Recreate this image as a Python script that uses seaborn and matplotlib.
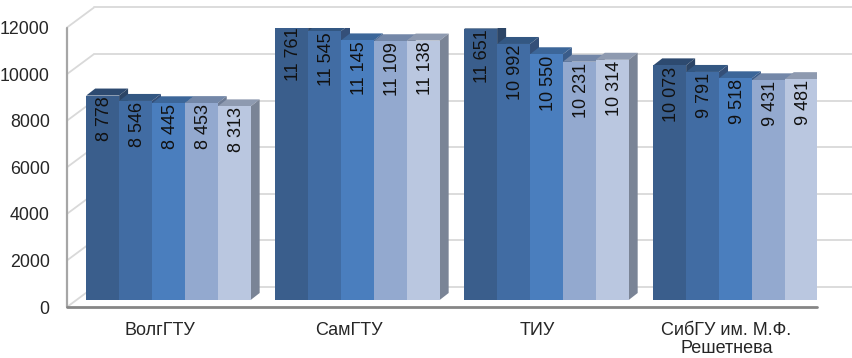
import numpy as np
import pandas as pd
import seaborn as sns
import matplotlib
matplotlib.use("Agg")
import matplotlib.pyplot as plt
from matplotlib.patches import Polygon

# ---------------- data ----------------
universities = ["ВолгГТУ", "СамГТУ", "ТИУ", "СибГУ им. М.Ф.\nРешетнева"]
series_names = ["Ряд 1", "Ряд 2", "Ряд 3", "Ряд 4", "Ряд 5"]
series_1 = [8778, 11761, 11651, 10073]
series_2 = [8546, 11545, 10992, 9791]
series_3 = [8445, 11145, 10550, 9518]
series_4 = [8453, 11109, 10231, 9431]
series_5 = [8313, 11138, 10314, 9481]
y_ticks = [0, 2000, 4000, 6000, 8000, 10000, 12000]

all_series = [series_1, series_2, series_3, series_4, series_5]
df = pd.DataFrame({
    "uni": [u for s in all_series for u in universities],
    "series": [n for n, s in zip(series_names, all_series) for _ in s],
    "val": [v for s in all_series for v in s],
})

# ---------------- style ----------------
face_colors = ["#3A5E8C", "#416CA3", "#4A7EBE", "#93A9CF", "#BAC7E0"]
top_colors = ["#2D4A70", "#335782", "#3C6699", "#7387A8", "#8E9AB0"]
side_colors = ["#2C4566", "#344F78", "#3A5C8A", "#6D7B94", "#7A8496"]

sns.set_style("white")
plt.rcParams["font.family"] = ["Liberation Sans", "DejaVu Sans"]

W, H = 852, 358
fig = plt.figure(figsize=(W / 100, H / 100), dpi=100)
ax = fig.add_axes([67 / W, 51 / H, 750 / W, 279.5 / H])

sns.barplot(data=df, x="uni", y="val", hue="series", palette=face_colors,
            width=0.87, saturation=1, legend=False, ax=ax, linewidth=0,
            errorbar=None)

xl, xr = -0.489, 3.479
ax.set_xlim(xl, xr)
ax.set_ylim(0, 12000)
for s in ax.spines.values():
    s.set_visible(False)
ax.set_xlabel("")
ax.set_ylabel("")

# pixel -> data conversions
p0 = ax.transData.transform((0, 0))
p1 = ax.transData.transform((1, 1))
sx = p1[0] - p0[0]
sy = p1[1] - p0[1]
def dxp(px):
    return px / sx
def dyp(px):
    return px / sy

# bars front-plane offset and depth
bx, by = dxp(9), dyp(7)
ddx, ddy = dxp(9), dyp(7)
wx, wy = dxp(27), dyp(20)

# back wall / left wall
for v in y_ticks:
    ax.plot([xl, xl + wx], [v, v + wy], color="#D9D9D9", lw=1.3,
            zorder=1, clip_on=False, solid_capstyle="butt")
    ax.plot([xl + wx, xr + 1.0], [v + wy, v + wy], color="#D9D9D9", lw=1.3,
            zorder=1, clip_on=False)
ax.plot([xl, xl], [0, 12000], color="#A6A6A6", lw=1.6, zorder=2, clip_on=False)
ax.plot([xl, xr], [0, 0], color="#868686", lw=2.0, zorder=2, clip_on=False)

# 3D bars
for i, cont in enumerate(ax.containers):
    for patch in cont.patches:
        x0 = patch.get_x() + bx
        w = patch.get_width()
        h = patch.get_height()
        x1 = x0 + w
        patch.set_x(x0)
        patch.set_y(by)
        patch.set_zorder(3 + 2 * i + 1)
        y1 = by + h
        top = Polygon([(x0, y1), (x1, y1), (x1 + ddx, y1 + ddy), (x0 + ddx, y1 + ddy)],
                      closed=True, facecolor=top_colors[i], edgecolor="none",
                      zorder=3 + 2 * i)
        side = Polygon([(x1, by), (x1 + ddx, by + ddy), (x1 + ddx, y1 + ddy), (x1, y1)],
                       closed=True, facecolor=side_colors[i], edgecolor="none",
                       zorder=3 + 2 * i)
        ax.add_patch(top)
        ax.add_patch(side)
        label = f"{int(round(h)):,}".replace(",", " ")
        ax.text(x0 + w / 2 + dxp(2), y1 - dyp(1), label, rotation=90,
                ha="center", va="top", fontsize=13, color="#111111", zorder=30)

ax.set_yticks(y_ticks)
ax.set_yticklabels([str(t) for t in y_ticks])
ax.tick_params(axis="y", length=0, pad=12.5, labelsize=12.8)
ax.tick_params(axis="x", length=0, pad=10.5, labelsize=13)
for t in ax.get_xticklabels():
    t.set_linespacing(1.08)

fig.savefig("out.png", dpi=100)
